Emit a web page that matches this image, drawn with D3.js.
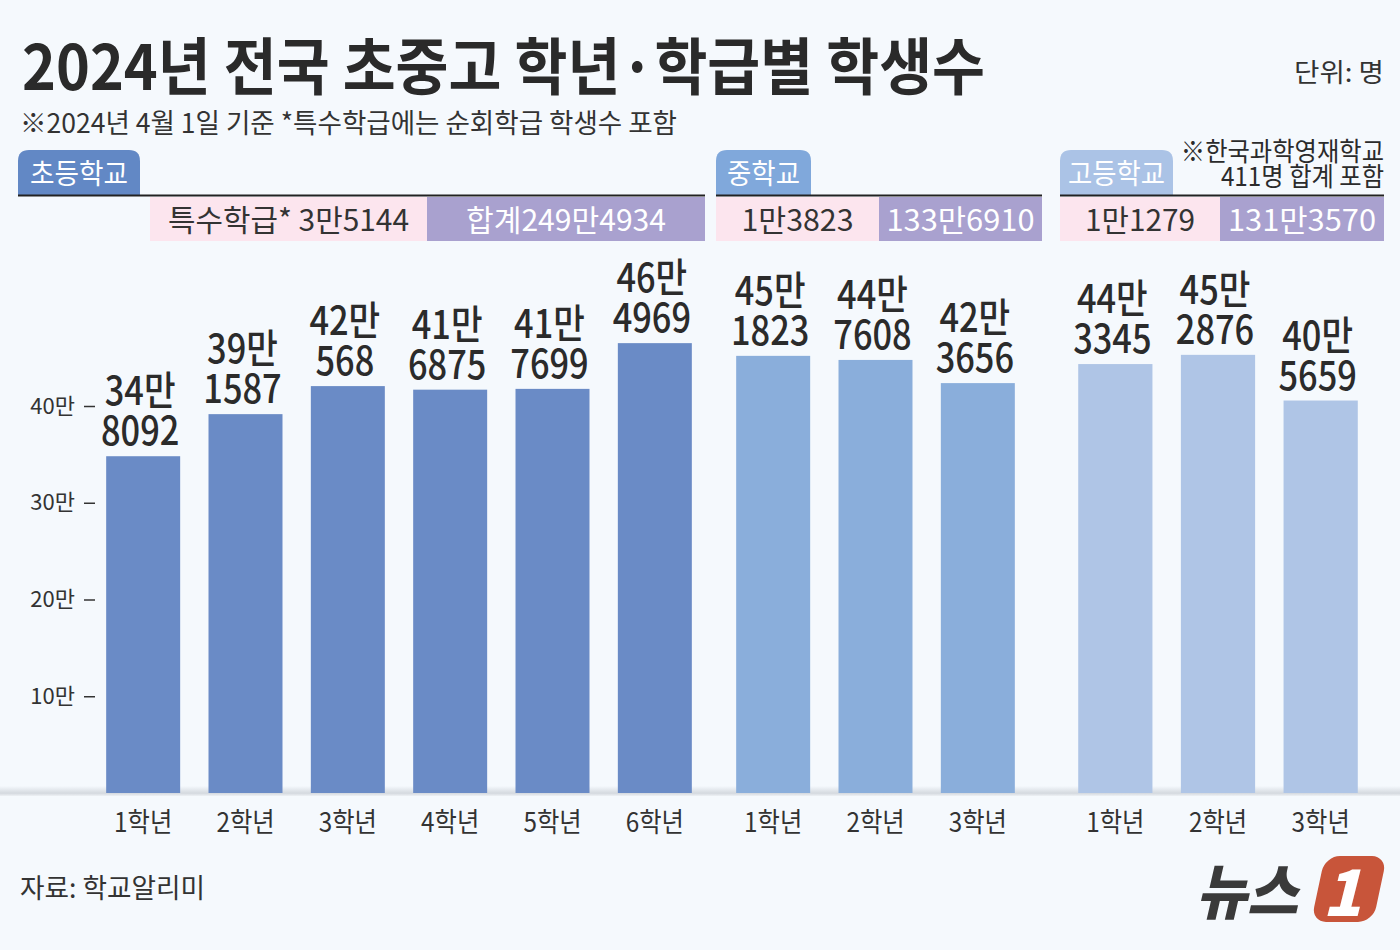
<!DOCTYPE html>
<html><head><meta charset="utf-8">
<script src="https://cdn.jsdelivr.net/npm/d3@7"></script>
<style>
html,body{margin:0;padding:0;background:#f5f9fd;}
svg text{font-family:"Noto Sans CJK KR","Noto Sans",sans-serif;}
</style></head>
<body>
<svg id="c" width="1400" height="950"></svg>
<script>
// ---- data ----
const schoolNames = ["초등학교", "중학교", "고등학교"];
const elemGrades = ["1학년", "2학년", "3학년", "4학년", "5학년", "6학년"];
const midGrades = ["1학년", "2학년", "3학년"];
const highGrades = ["1학년", "2학년", "3학년"];
const elemValues = [348092, 391587, 420568, 416875, 417699, 464969];
const midValues = [451823, 447608, 423656];
const highValues = [443345, 452876, 405659];
const specialLabels = ["특수학급* 3만5144", "1만3823", "1만1279"];
const totalLabels = ["합계249만4934", "133만6910", "131만3570"];
const noteLines = ["※한국과학영재학교", "411명 합계 포함"];
const tickValues = [100000, 200000, 300000, 400000];
const tickLabels = ["10만", "20만", "30만", "40만"];

const svg = d3.select("#c");
const BG = "#f5f9fd";
svg.append("rect").attr("width", 1400).attr("height", 950).attr("fill", BG);

function txt(s, x, y, size, o = {}) {
  const t = svg.append("text").attr("x", x).attr("y", y)
    .attr("font-size", size).attr("fill", o.fill || "#2b2b2b")
    .attr("font-weight", o.weight || 400)
    .attr("text-anchor", o.anchor || "start").text(s);
  if (o.w) t.attr("textLength", o.w).attr("lengthAdjust", "spacingAndGlyphs");
  return t;
}
function ctext(g, s, x, y, size, sx, o = {}) {
  return g.append("text")
    .attr("transform", `translate(${x},${y}) scale(${sx},1)`)
    .attr("font-size", size).attr("fill", o.fill || "#2b2b2b")
    .attr("font-weight", o.weight || 400)
    .attr("text-anchor", o.anchor || "middle").text(s);
}
function mtext(g, lines, x, y, size, sx, lh, o = {}) {
  const t = g.append("text")
    .attr("transform", `translate(${x},${y}) scale(${sx},1)`)
    .attr("font-size", size).attr("fill", o.fill || "#2b2b2b")
    .attr("font-weight", o.weight || 400)
    .attr("text-anchor", o.anchor || "middle");
  lines.forEach((l, i) => t.append("tspan").attr("x", 0).attr("dy", i ? lh : 0).text(l));
  return t;
}

// ---- titles ----
txt("2024년 전국 초중고 학년·학급별 학생수", 22, 90, 62, {weight: 700, w: 963, fill: "#2a2a2a"});
txt("단위: 명", 1384, 82, 26, {anchor: "end", w: 90, fill: "#333"});
txt("※2024년 4월 1일 기준 *특수학급에는 순회학급 학생수 포함", 20, 133, 27, {w: 657, fill: "#333"});

// ---- scale ----
const y = d3.scaleLinear().domain([0, 400000]).range([793, 406]);

// baseline shading
const defs = svg.append("defs");
const lg = defs.append("linearGradient").attr("id", "bl").attr("x1", 0).attr("x2", 0).attr("y1", 0).attr("y2", 1);
lg.append("stop").attr("offset", 0).attr("stop-color", BG);
lg.append("stop").attr("offset", 0.72).attr("stop-color", "#d4d9df");
lg.append("stop").attr("offset", 1).attr("stop-color", "#eef1f5");
svg.append("rect").attr("x", 0).attr("width", 1400).attr("y", y(0) - 7).attr("height", 10).attr("fill", "url(#bl)");

// axis
const axis = d3.axisLeft(y).tickValues(tickValues).tickFormat((d, i) => tickLabels[i]).tickSize(11).tickPadding(9);
const ag = svg.append("g").attr("transform", "translate(95,0)").call(axis);
ag.select(".domain").remove();
ag.selectAll(".tick line").attr("stroke", "#333").attr("stroke-width", 1.5);
ag.selectAll(".tick text").attr("font-size", 22).attr("fill", "#333")
  .attr("font-family", "'Noto Sans CJK KR',sans-serif");

// ---- groups ----
const groups = [
  {name: schoolNames[0], grades: elemGrades, values: elemValues, range: [92, 706], color: "#6a8bc6", tab: "#6288c5",
   tabX: [18, 140], tabW: 98, lineX: [18, 705], pinkX: 150, split: 427, spW: 241, totW: 200},
  {name: schoolNames[1], grades: midGrades, values: midValues, range: [722, 1029], color: "#8aaedb", tab: "#80a8db",
   tabX: [716, 811], tabW: 73, lineX: [716, 1042], pinkX: 716, split: 879, spW: 112, totW: 148},
  {name: schoolNames[2], grades: highGrades, values: highValues, range: [1064, 1372], color: "#afc5e6", tab: "#abc3e6",
   tabX: [1060, 1173], tabW: 97, lineX: [1060, 1384], pinkX: 1060, split: 1220, spW: 110, totW: 148}
];

groups.forEach((gd, gi) => {
  const x = d3.scaleBand().domain(gd.grades).range(gd.range).paddingInner(0.277).paddingOuter(0.1385);
  const g = svg.append("g");
  const data = gd.grades.map((k, i) => ({k, v: gd.values[i]}));
  g.selectAll("rect.bar").data(data).join("rect").attr("class", "bar")
    .attr("x", d => x(d.k)).attr("width", x.bandwidth())
    .attr("y", d => y(d.v)).attr("height", d => y(0) - y(d.v))
    .attr("fill", gd.color);
  data.forEach(d => {
    const cx = x(d.k) + x.bandwidth() / 2;
    const top = y(d.v);
    mtext(g, [Math.floor(d.v / 10000) + "만", String(d.v % 10000)], cx - 3, top - 51, 40, 0.86, 40, {weight: 500});
    ctext(g, d.k, cx, 832, 27, 0.9, {fill: "#333"});
  });

  // header tab
  const [x0, x1] = gd.tabX, t0 = 150, t1 = 195, r = 11;
  svg.append("path")
    .attr("d", `M${x0},${t1} L${x0},${t0 + r} Q${x0},${t0} ${x0 + r},${t0} L${x1 - r},${t0} Q${x1},${t0} ${x1},${t0 + r} L${x1},${t1} Z`)
    .attr("fill", gd.tab);
  txt(gd.name, (x0 + x1) / 2, 184, 28, {anchor: "middle", fill: "#fff", w: gd.tabW});
  svg.append("line").attr("x1", gd.lineX[0]).attr("x2", gd.lineX[1]).attr("y1", 195.5).attr("y2", 195.5)
    .attr("stroke", "#222").attr("stroke-width", 2);
  svg.append("rect").attr("x", gd.pinkX).attr("y", 197).attr("width", gd.split - gd.pinkX).attr("height", 44).attr("fill", "#fce5ee");
  svg.append("rect").attr("x", gd.split).attr("y", 197).attr("width", gd.lineX[1] - gd.split).attr("height", 44).attr("fill", "#a9a1cf");
  txt(specialLabels[gi], (gd.pinkX + gd.split) / 2, 231, 30, {anchor: "middle", fill: "#333", w: gd.spW});
  txt(totalLabels[gi], (gd.split + gd.lineX[1]) / 2, 231, 30, {anchor: "middle", fill: "#fff", w: gd.totW});
});

mtext(svg, noteLines, 1384, 161, 26, 0.935, 25, {anchor: "end", fill: "#2b2b2b"});

// source
txt("자료: 학교알리미", 20, 898, 27, {w: 185, fill: "#333"});

// logo
const logo = svg.append("g");
logo.append("text").attr("x", 1196).attr("y", 914).attr("font-size", 60).attr("font-weight", 900)
  .attr("fill", "#3a3a3a").attr("font-style", "italic").attr("textLength", 102).attr("lengthAdjust", "spacingAndGlyphs")
  .text("뉴스");
logo.append("rect").attr("x", 1318).attr("y", 856).attr("width", 62).attr("height", 66).attr("rx", 15)
  .attr("fill", "#c8553a")
  .attr("transform", `translate(${889 * Math.tan(12 * Math.PI / 180)},0) skewX(-12)`);
logo.append("text").attr("x", 1342).attr("y", 916).attr("font-size", 64).attr("font-weight", 900)
  .attr("font-style", "italic").attr("fill", "#fff").attr("text-anchor", "middle").text("1");
</script>
</body></html>
